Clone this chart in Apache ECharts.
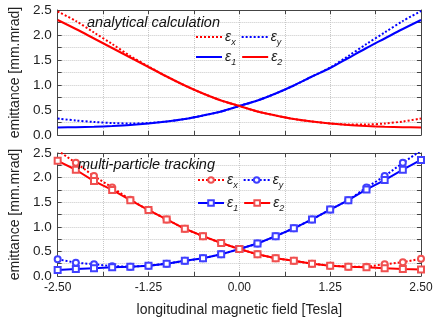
<!DOCTYPE html>
<html><head><meta charset="utf-8">
<script src="https://cdn.jsdelivr.net/npm/echarts@6/dist/echarts.min.js"></script>
<style>html,body{margin:0;padding:0;background:#fff}#c{width:436px;height:321px}</style>
</head><body><div id="c"></div>
<script>
// longitudinal magnetic field [Tesla]
const field = [-2.5,-2.25,-2.0,-1.75,-1.5,-1.25,-1.0,-0.75,-0.5,-0.25,0,0.25,0.5,0.75,1.0,1.25,1.5,1.75,2.0,2.25,2.5];
// analytical calculation
const anaEx = [2.47,2.28,2.05,1.82,1.58,1.37,1.17,0.99,0.83,0.69,0.58,0.47,0.39,0.32,0.27,0.23,0.21,0.21,0.23,0.27,0.33];
const anaEy = [0.33,0.29,0.26,0.24,0.23,0.24,0.27,0.32,0.39,0.47,0.58,0.69,0.83,0.99,1.17,1.35,1.58,1.82,2.05,2.28,2.48];
const anaE1 = [0.15,0.155,0.165,0.18,0.20,0.23,0.27,0.32,0.39,0.47,0.58,0.69,0.83,0.99,1.17,1.34,1.54,1.74,1.93,2.12,2.30];
const anaE2 = [2.30,2.12,1.93,1.74,1.55,1.36,1.17,0.99,0.83,0.69,0.58,0.47,0.39,0.32,0.27,0.23,0.20,0.18,0.165,0.155,0.15];
// multi-particle tracking
const trkEx = [2.55,2.30,2.03,1.80,1.55,1.34,1.15,0.96,0.81,0.67,0.55,0.44,0.36,0.31,0.25,0.21,0.19,0.19,0.24,0.28,0.35];
const trkEy = [0.34,0.27,0.24,0.20,0.19,0.21,0.25,0.31,0.36,0.44,0.55,0.66,0.81,0.97,1.15,1.35,1.54,1.80,2.03,2.30,2.55];
const trkE1 = [0.12,0.14,0.16,0.18,0.19,0.21,0.25,0.31,0.36,0.44,0.55,0.66,0.81,0.97,1.15,1.35,1.54,1.76,1.95,2.16,2.36];
const trkE2 = [2.34,2.16,1.93,1.75,1.54,1.34,1.15,0.96,0.81,0.67,0.55,0.44,0.36,0.31,0.25,0.21,0.19,0.18,0.16,0.14,0.13];
const xTicks = [-2.5,-1.25,0,1.25,2.5];
const yTicks = [0,0.5,1,1.5,2,2.5];

const RED = '#ff0000', BLUE = '#0000ff', FRAME = '#444';
const RED_M = '#f05050', BLUE_M = '#4040ff';
const pairs = v => field.map((x,i)=>[x,v[i]]);
const labels = {ex_a:'{e|ε}{s|x}',ey_a:'{e|ε}{s|y}',e1_a:'{e|ε}{s|1}',e2_a:'{e|ε}{s|2}',
                ex_t:'{e|ε}{s|x}',ey_t:'{e|ε}{s|y}',e1_t:'{e|ε}{s|1}',e2_t:'{e|ε}{s|2}'};
const rich = {e:{fontSize:14,fontStyle:'italic',fontFamily:'Liberation Sans',color:'#222'},
              s:{fontSize:9,fontStyle:'italic',fontFamily:'Liberation Sans',color:'#222',padding:[11,0,0,0]}};
const isTick = (v,arr)=>arr.some(t=>Math.abs(t-v)<1e-6);

function xAx(grid, pos, main, last){
  return {gridIndex:grid,type:'value',min:-2.5,max:2.5,interval:0.625,position:pos,
    axisLine:{show:true,onZero:false,lineStyle:{color:FRAME,width:1}},
    axisTick:{show:true,inside:true,length:4,lineStyle:{color:FRAME}},
    axisLabel:{show:last,margin:6,fontSize:12,fontFamily:'Liberation Sans',color:'#222',
      formatter:v=>isTick(v,xTicks)?(Math.abs(v)<1e-9?'0.00':v.toFixed(2)):''},
    splitLine:{show:main,lineStyle:{type:'dotted',color:'#c8c8c8'}},
    name:last?'longitudinal magnetic field [Tesla]':'',nameLocation:'middle',nameGap:27,
    nameTextStyle:{fontSize:14,fontFamily:'Liberation Sans',color:'#222'}};
}
function yAx(grid, pos, main){
  return {gridIndex:grid,type:'value',min:0,max:2.5,interval:0.25,position:pos,
    axisLine:{show:true,onZero:false,lineStyle:{color:FRAME,width:1}},
    axisTick:{show:true,inside:true,length:4,lineStyle:{color:FRAME}},
    axisLabel:{show:main,margin:6,fontSize:13.5,fontFamily:'Liberation Sans',color:'#222',
      formatter:v=>isTick(v,yTicks)?v.toFixed(1):''},
    splitLine:{show:main,lineStyle:{type:'dotted',color:'#c8c8c8'}},
    name:main?'emittance [mm.mrad]':'',nameLocation:'middle',nameGap:30,
    nameTextStyle:{fontSize:14,fontFamily:'Liberation Sans',color:'#222'}};
}
function ser(name, data, color, mcolor, dotted, grid, symbol){
  return {name, type:'line', xAxisIndex:grid*2, yAxisIndex:grid*2, data:pairs(data),
    smooth: grid===0 ? 0.3 : false, clip:true,
    symbol: symbol||'none', symbolSize:6, showSymbol: !!symbol,
    z: dotted?2:3,
    lineStyle:{color, width:2, type: dotted?'dotted':'solid'},
    itemStyle:{color:mcolor, borderColor:mcolor, borderWidth:1},
    emphasis:{disabled:true}, animation:false};
}
function leg(names, left, top, hideSym){
  const l = {data:names, left, top, itemWidth:26, itemHeight:7, itemGap:5, padding:0,
    selectedMode:false, formatter:n=>labels[n], textStyle:{rich, padding:[0,0,0,-2]}};
  if (hideSym) l.itemStyle = {opacity:0};
  return l;
}
const option = {
  animation:false,
  grid:[{left:45,right:15,top:10,height:125},{left:45,right:15,top:153,height:123}],
  title:[
    {text:'analytical calculation',left:87,top:15,padding:0,textStyle:{fontSize:14.5,fontStyle:'italic',fontWeight:'normal',fontFamily:'Liberation Sans',color:'#111'}},
    {text:'multi-particle tracking',left:78,top:157,padding:0,textStyle:{fontSize:14.5,fontStyle:'italic',fontWeight:'normal',fontFamily:'Liberation Sans',color:'#111'}}
  ],
  legend:[
    leg(['ex_a','ey_a'],195,30,true),
    leg(['e1_a','e2_a'],195,50,true),
    leg(['ex_t','ey_t'],197,173,false),
    leg(['e1_t','e2_t'],197,196,false)
  ],
  xAxis:[xAx(0,'bottom',true,false),xAx(0,'top',false,false),xAx(1,'bottom',true,true),xAx(1,'top',false,false)],
  yAxis:[yAx(0,'left',true),yAx(0,'right',false),yAx(1,'left',true),yAx(1,'right',false)],
  series:[
    ser('ex_a',anaEx,RED,RED,true,0), ser('ey_a',anaEy,BLUE,BLUE,true,0),
    ser('e1_a',anaE1,BLUE,BLUE,false,0), ser('e2_a',anaE2,RED,RED,false,0),
    ser('ex_t',trkEx,RED,RED_M,true,1,'emptyCircle'), ser('ey_t',trkEy,BLUE,BLUE_M,true,1,'emptyCircle'),
    ser('e1_t',trkE1,BLUE,BLUE_M,false,1,'emptyRect'), ser('e2_t',trkE2,RED,RED_M,false,1,'emptyRect')
  ]
};
const chart = echarts.init(document.getElementById('c'),null,{renderer:'canvas'});
chart.setOption(option);
</script></body></html>
